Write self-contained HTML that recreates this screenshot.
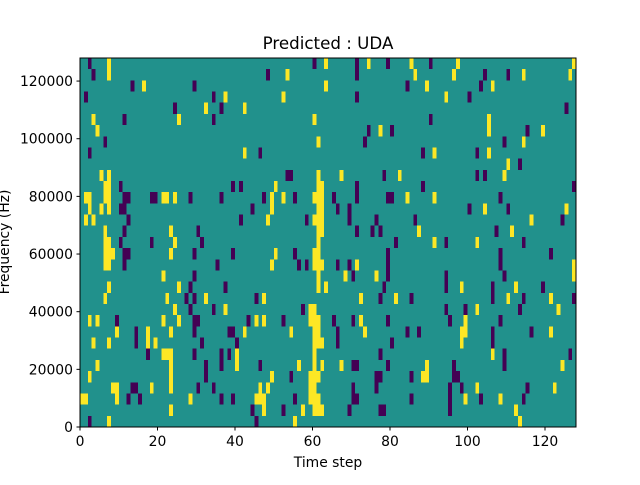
<!DOCTYPE html>
<html><head><meta charset="utf-8"><style>
html,body{margin:0;padding:0;background:#fff;}
svg text{font-family:"DejaVu Sans","Liberation Sans",sans-serif;fill:#000;}
</style></head><body>
<svg id="s" width="640" height="480" viewBox="0 0 640 480" xmlns="http://www.w3.org/2000/svg">
<rect x="0" y="0" width="640" height="480" fill="#fff"/>
<g id="cells" shape-rendering="crispEdges"><rect x="80" y="58" width="496" height="369" fill="#21918c"/></g>
<rect x="80" y="58" width="496" height="369" fill="none" stroke="#000" stroke-width="1"/>
<g id="ticks" stroke="#000" stroke-width="1"></g>
<g id="labels" font-size="13.9"></g>
<text x="328" y="49" font-size="16.7" text-anchor="middle">Predicted : UDA</text>
<text x="328" y="467" font-size="13.9" text-anchor="middle">Time step</text>
<text transform="translate(9,242) rotate(-90)" font-size="13.9" text-anchor="middle">Frequency (Hz)</text>
</svg>
<script>
var D=[
"0:D2 Y7 D60 Y63 D71 Y74 D79 Y85 D90 Y97 Y127",
"1:D3 Y7 D48 Y53 D71 Y86 Y96 D104 D110 Y114 Y126",
"2:D13 Y16 D29 Y63 D84 Y89 D103 Y106",
"3:D1 D34 Y37 Y52 D71 Y94 D100",
"4:D24 Y32 D36 Y42 D125",
"5:Y3 D11 Y25 D34 Y60 D90 Y105",
"6:Y4 D74 Y77 D80 Y105 D115 Y119",
"7:D6 Y61 D73 D109 Y114",
"8:D2 Y42 D46 D88 Y91 D102 Y105",
"9:Y110 D113",
"10:Y5 Y7 D53-54 Y61 Y67 D78 Y82 D102 D104 Y109",
"11:Y6-7 D10 D39 D41 Y50 Y61-62 D71 D88 D127",
"12:Y1-2 Y6-7 D11-12 D18-19 Y21-22 Y24 D28 D36 D47 Y49 Y52 D55 Y60-62 D65 D71 D79-80 Y84 Y91 D108",
"13:Y2 Y5 Y7 D10-11 D44 Y49 Y61-62 D66 D69 D100 Y104 D110 Y125",
"14:Y1 Y3 D12 D41 Y48 D58 Y60-62 D69 D76 D86 Y116 D124",
"15:Y6 D11 Y23 D30 Y61-62 D71 D75 D77 Y87 D107 Y111",
"16:Y6-7 D10 D18 Y24 D31 Y61 D81 Y91 D94 Y102 D114",
"17:Y6-8 D11-12 Y23 D29 D39 Y50 D55 Y60-61 D79 D108 D121",
"18:Y6-7 D11 D35 Y49 D56 D58 Y60-62 D66 D69 Y71 D79 D108 Y127",
"19:Y21 D29 Y61 Y68 D70 Y76 D79 D94 D109 Y127",
"20:Y7 Y25 D28 D37 Y61 Y63 D78 D94 Y98 D106 Y112 D119",
"21:Y6 Y22 D27 D29 Y32 D45 Y47 Y72 D77 Y81 D85 D106 Y110 D114 Y121 D127",
"22:Y24 D28 D34 Y37 D57 Y59-60 D94 D99 Y102 D113 Y123",
"23:Y2 Y4 D9 Y21 Y25 D29-30 D43 Y45 Y47 D52 Y59-61 D65 D70 Y72 D79 D95 Y99 D108",
"24:Y9 D14 Y17 Y23 D29 D38-39 Y42 Y54 Y60-61 D66 Y73 D84 D87 Y98-99 D106 D116 Y121",
"25:Y3 Y7 D14 Y17 Y19 D31 D40 Y60-62 D66 D80 Y98 D106",
"26:D17 Y21-23 D29 D36 D38 Y40 Y60 D77 Y106 D109 D126",
"27:Y4 Y23 D32 D36 Y40 D46 Y56 Y60 Y62 Y67 D70-71 D79 Y89 D96 D109 Y124",
"28:Y2 Y23 D32 Y49 D54 Y59-61 D76-77 D85 Y88-89 D96-97",
"29:Y8-9 D13-14 Y18 Y23 D30 D34 Y46 Y48 Y59-60 D70 D76 D95 D98 Y102 D115 Y122",
"30:Y0-1 Y9 D12 D15 Y28 D36 D39 Y45-47 D55 Y59-61 D70-71 D85 D95 Y99 D103 Y108 D114",
"31:Y23 D44 Y47 D52 Y57 Y60-62 D69 D77-78 D95 Y112",
"32:D2 Y7 D45 Y55 Y113"
];
var NS="http://www.w3.org/2000/svg",g=document.getElementById("cells");
var cw=496/128,rh=369/33;
D.forEach(function(l){var p=l.split(":"),r=+p[0];p[1].split(" ").forEach(function(t){
 var c=t[0]=="Y"?"#fde725":"#440154",a=t.slice(1).split("-"),c0=+a[0],c1=a.length>1?+a[1]:c0;
 var e=document.createElementNS(NS,"rect");
 var x0=80+c0*cw,x1=80+(c1+1)*cw,y0=58+r*rh,y1=58+(r+1)*rh;
 e.setAttribute("x",x0);e.setAttribute("y",y0);e.setAttribute("width",x1-x0);e.setAttribute("height",y1-y0);
 e.setAttribute("fill",c);g.appendChild(e);});});
var tk=document.getElementById("ticks"),lb=document.getElementById("labels");
function L(x1,y1,x2,y2){var e=document.createElementNS(NS,"line");e.setAttribute("x1",x1);e.setAttribute("y1",y1);e.setAttribute("x2",x2);e.setAttribute("y2",y2);tk.appendChild(e);}
function T(x,y,s,a){var e=document.createElementNS(NS,"text");e.setAttribute("x",x);e.setAttribute("y",y);e.setAttribute("text-anchor",a);e.textContent=s;lb.appendChild(e);}
for(var v=0;v<=120;v+=20){var x=80+v*cw;L(x,427,x,430.5);T(x,446,""+v,"middle");}
for(var v=0;v<=120000;v+=20000){var y=427-v/128000*369;L(76.5,y,80,y);T(73,y+5,""+v,"end");}
</script>
</body></html>
